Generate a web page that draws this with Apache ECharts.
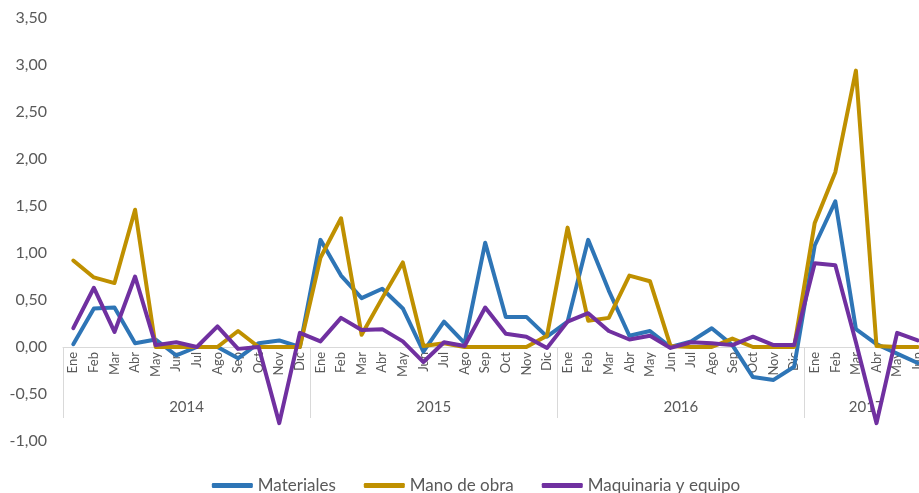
<!DOCTYPE html>
<html>
<head>
<meta charset="utf-8">
<script src="https://cdn.jsdelivr.net/npm/echarts@6/dist/echarts.min.js"></script>
<style>
  html, body { margin: 0; padding: 0; background: #fff; overflow: hidden; }
  #grafico { width: 952px; height: 493px; }
</style>
</head>
<body>
<div id="grafico"></div>
<script>
const anios = ['2014', '2015', '2016', '2017'];
const mesesPorAnio = [12, 12, 12, 6];
const nombresMeses = ['Ene', 'Feb', 'Mar', 'Abr', 'May', 'Jun', 'Jul', 'Ago', 'Sep', 'Oct', 'Nov', 'Dic'];

const materiales = [
    0.03, 0.41, 0.42, 0.04, 0.08, -0.09, 0.00, 0.00, -0.12, 0.04, 0.07, 0.00,
    1.14, 0.76, 0.52, 0.62, 0.41, -0.05, 0.27, 0.04, 1.11, 0.32, 0.32, 0.11,
    0.27, 1.14, 0.60, 0.12, 0.17, 0.00, 0.06, 0.20, 0.02, -0.32, -0.35, -0.21,
    1.08, 1.55, 0.19, 0.03, -0.07, -0.17
];
const manoObra = [
    0.92, 0.74, 0.68, 1.46, 0.00, 0.00, 0.00, 0.00, 0.17, 0.00, 0.00, 0.00,
    0.95, 1.37, 0.13, 0.52, 0.90, 0.01, 0.04, 0.00, 0.00, 0.00, 0.00, 0.12,
    1.27, 0.28, 0.31, 0.76, 0.70, 0.01, 0.00, 0.00, 0.09, 0.00, 0.00, 0.00,
    1.32, 1.86, 2.94, 0.01, 0.00, 0.00
];
const maquinaria = [
    0.20, 0.63, 0.16, 0.75, 0.02, 0.05, 0.00, 0.22, -0.02, 0.00, -0.81, 0.15,
    0.06, 0.31, 0.18, 0.19, 0.06, -0.16, 0.05, 0.01, 0.42, 0.14, 0.11, -0.01,
    0.27, 0.36, 0.17, 0.08, 0.12, -0.01, 0.05, 0.04, 0.02, 0.11, 0.02, 0.02,
    0.89, 0.87, 0.05, -0.81, 0.15, 0.07
];

const yMin = -1;
const yMax = 3.5;

// categorias de meses y eje de años (en los limites entre meses)
let meses = [];
let ejeAnios = [];
let limites = [0];
let inicio = 0;
anios.forEach((anio, i) => {
    for (let m = 0; m < mesesPorAnio[i]; m++) meses.push(nombresMeses[m]);
    inicio += mesesPorAnio[i];
    limites.push(inicio);
});
for (let k = 0; k <= meses.length; k++) ejeAnios.push('');
anios.forEach((anio, i) => {
    ejeAnios[limites[i] + mesesPorAnio[i] / 2] = anio;
});

const fuente = 'Lato';
const gris = '#595959';
const alto = 493;
const margenSup = 18;
const margenInf = 52;
// los ejes x van sobre el cero
const desplazamiento = -(alto - margenSup - margenInf) * (0 - yMin) / (yMax - yMin);

function serie(nombre, datos, color) {
    return {
        name: nombre,
        type: 'line',
        data: datos,
        symbol: 'none',
        xAxisIndex: 0,
        lineStyle: { width: 4, color: color, cap: 'round', join: 'round' },
        itemStyle: { color: color }
    };
}

let grafico = echarts.init(document.getElementById('grafico'));

let option = {
    animation: false,
    grid: { left: 63, right: 24, top: margenSup, bottom: margenInf, containLabel: false, outerBoundsMode: 'none' },
    legend: {
        top: 472,
        left: 'center',
        icon: 'roundRect',
        itemWidth: 41,
        itemHeight: 5,
        itemGap: 28,
        textStyle: { color: gris, fontSize: 17, fontFamily: fuente }
    },
    xAxis: [
        {
            type: 'category',
            position: 'bottom',
            offset: desplazamiento,
            data: meses,
            boundaryGap: true,
            axisLine: { onZero: false, lineStyle: { color: '#d9d9d9', width: 1 } },
            axisTick: { show: false },
            axisLabel: { interval: 0, rotate: 90, margin: 5, color: gris, fontSize: 13, fontFamily: fuente }
        },
        {
            type: 'category',
            position: 'bottom',
            offset: desplazamiento,
            data: ejeAnios,
            boundaryGap: false,
            axisLine: { show: false, onZero: false },
            axisTick: {
                show: true,
                length: 71,
                interval: (idx) => limites.includes(idx),
                lineStyle: { color: '#d9d9d9', width: 1 }
            },
            axisLabel: {
                interval: (idx, val) => val !== '',
                margin: 53,
                color: gris,
                fontSize: 15,
                fontFamily: fuente
            }
        }
    ],
    yAxis: {
        type: 'value',
        min: yMin,
        max: yMax,
        interval: 0.5,
        axisLine: { show: false },
        axisTick: { show: false },
        splitLine: { show: false },
        axisLabel: {
            margin: 16,
            color: gris,
            fontSize: 16,
            fontFamily: fuente,
            formatter: v => v.toFixed(2).replace('.', ',')
        }
    },
    series: [
        serie('Materiales', materiales, '#2e75b6'),
        serie('Mano de obra', manoObra, '#bf9000'),
        serie('Maquinaria y equipo', maquinaria, '#7030a0')
    ]
};

grafico.setOption(option);
</script>
</body>
</html>
